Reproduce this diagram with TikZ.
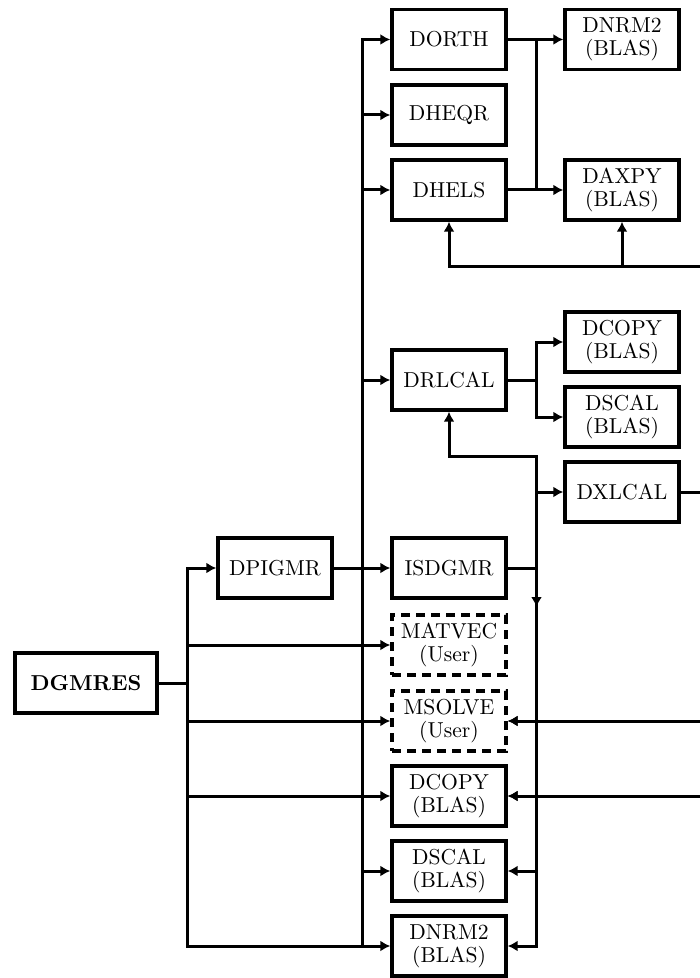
\documentclass[tikz,border=0pt]{standalone}
\usetikzlibrary{arrows.meta,calc}
\tikzset{
  box/.style={draw, line width=1.7pt, minimum width=57pt, minimum height=30pt, align=center, inner sep=1pt,
    font=\fontsize{10.8}{11.6}\selectfont},
  userbox/.style={box, dash pattern=on 4.5pt off 3pt},
  wire/.style={line width=1.5pt, line cap=rect},
  call/.style={wire, -{Latex[length=5pt,width=5.5pt]}},
}

\begin{document}
\begin{tikzpicture}[x=0.5pt,y=-0.5pt]
  \useasboundingbox (0,0) rectangle (700,978);

  % driver and its preconditioned solver
  \node[box,minimum width=71pt] (dgmres) at (86,683) {\textbf{DGMRES}};
  \node[box] (dpigmr) at (275,568) {DPIGMR};

  % middle column
  \node[box] (dorth)  at (449,39.5) {DORTH};
  \node[box] (dheqr)  at (449,115)  {DHEQR};
  \node[box] (dhels)  at (449,190)  {DHELS};
  \node[box] (drlcal) at (449,380)  {DRLCAL};
  \node[box] (isdgmr) at (449,568)  {ISDGMR};
  \node[userbox] (matvec) at (449,645) {MATVEC\\(User)};
  \node[userbox] (msolve) at (449,721) {MSOLVE\\(User)};
  \node[box] (dcopy)  at (449,796)  {DCOPY\\(BLAS)};
  \node[box] (dscal)  at (449,871)  {DSCAL\\(BLAS)};
  \node[box] (dnrm)   at (449,946)  {DNRM2\\(BLAS)};

  % right column
  \node[box] (dnrmb)  at (622,39.5) {DNRM2\\(BLAS)};
  \node[box] (daxpy)  at (622,190)  {DAXPY\\(BLAS)};
  \node[box] (dcopyb) at (622,342)  {DCOPY\\(BLAS)};
  \node[box] (dscalb) at (622,417)  {DSCAL\\(BLAS)};
  \node[box] (dxlcal) at (622,492)  {DXLCAL};

  % bus lines and turning points
  \coordinate (xb) at (187,0);
  \coordinate (xa) at (362,0);
  \coordinate (xc) at (536.5,0);
  \coordinate (xr) at (700,0);
  \coordinate (yfb) at (0,267);
  \coordinate (yrl) at (0,456);
  \coordinate (ydn) at (0,607);

  % DGMRES calls
  \draw[wire] (dgmres.east) -- (dgmres.east -| xb);
  \draw[wire] (xb |- dpigmr) -- (xb |- dnrm);
  \foreach \n in {dpigmr,matvec,msolve,dcopy,dnrm}
    \draw[call] (xb |- \n) -- (\n.west);

  % DPIGMR calls
  \draw[call] (dpigmr) -- (isdgmr);
  \draw[wire] (xa |- dorth) -- (xa |- dnrm);
  \foreach \n in {dorth,dheqr,dhels,drlcal,dscal}
    \draw[call] (xa |- \n) -- (\n.west);

  % DORTH / DHELS -> BLAS
  \draw[call] (dorth) -- (dnrmb);
  \draw[call] (dhels) -- (daxpy);
  \draw[wire] (xc |- dorth) -- (xc |- dhels);
  \draw[call] (xr |- yfb) -| (dhels.south);
  \draw[call] (daxpy |- yfb) -- (daxpy.south);

  % DRLCAL -> BLAS
  \draw[wire] (drlcal.east) -- (drlcal.east -| xc);
  \draw[wire] (xc |- dcopyb) -- (xc |- dscalb);
  \draw[call] (xc |- dcopyb) -- (dcopyb.west);
  \draw[call] (xc |- dscalb) -- (dscalb.west);

  % ISDGMR calls
  \draw[wire] (isdgmr.east) -- (isdgmr.east -| xc);
  \draw[wire] (xc |- yrl) -- (xc |- dnrm);
  \draw[call] (xc |- isdgmr) -- (xc |- ydn);
  \draw[call] (xc |- yrl) -| (drlcal.south);
  \draw[call] (xc |- dxlcal) -- (dxlcal.west);
  \foreach \n in {msolve,dcopy,dscal,dnrm}
    \draw[call] (xc |- \n) -- (\n.east);

  % lines running off to the right
  \draw[wire] (dxlcal.east) -- (dxlcal.east -| xr);
  \draw[call] (xr |- msolve) -- (msolve.east);
  \draw[call] (xr |- dcopy) -- (dcopy.east);
\end{tikzpicture}
\end{document}
